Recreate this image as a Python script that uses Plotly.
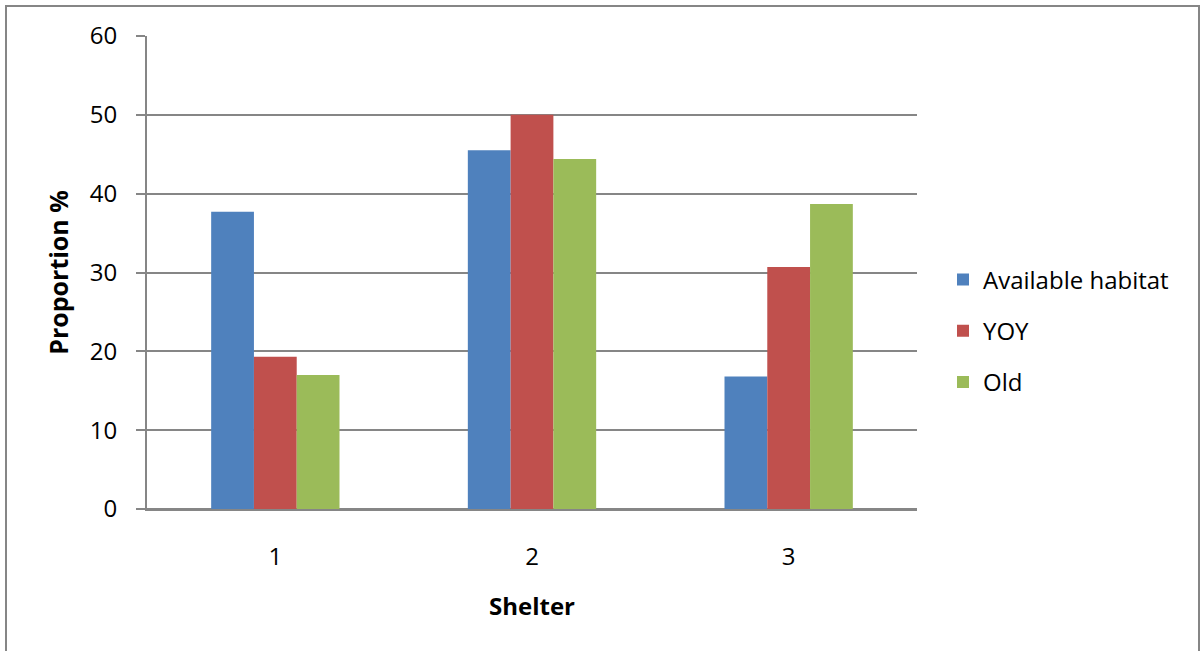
import plotly.graph_objects as go

# Shelter categories and the proportion (%) of each group per category
shelter = ["1", "2", "3"]
available_habitat = [37.7, 45.5, 16.8]
yoy = [19.3, 50.0, 30.7]
old = [17.0, 44.4, 38.7]

series = [
    ("Available habitat", available_habitat, "#4F81BD"),
    ("YOY", yoy, "#C0504D"),
    ("Old", old, "#9BBB59"),
]

FONT = "Open Sans"
GRID = "#868686"

fig = go.Figure()
for i, (name, vals, color) in enumerate(series):
    fig.add_trace(go.Bar(
        x=shelter, y=vals, name=name,
        marker=dict(color=color, line=dict(width=0)),
        legendgroup=f"g{i}",
    ))

# plot area in pixels: x 147..917, y 36..509
W, H = 1201, 651
L, R, T, B = 147, 917, 36, 509
pw, ph = R - L, B - T

def px_x(x):
    return (x - L) / pw

def px_y(y):
    return (B - y) / ph

fig.update_layout(
    width=W, height=H,
    margin=dict(l=L, r=W - R, t=T, b=H - B, autoexpand=False),
    paper_bgcolor="white", plot_bgcolor="white",
    barmode="group", bargap=0.5, bargroupgap=0,
    font=dict(family=FONT, size=24, color="black"),
    showlegend=True,
    legend=dict(
        x=px_x(943), y=px_y(331), xanchor="left", yanchor="middle",
        font=dict(family=FONT, size=24, color="black"),
        tracegroupgap=17, itemclick=False,
    ),
    xaxis=dict(
        type="category", range=[-0.5, 2.5],
        showline=True, linecolor=GRID, linewidth=2,
        showgrid=False, ticks="", ticklabelstandoff=25,
        tickfont=dict(size=24),
        title=dict(text="<b>Shelter</b>", standoff=27, font=dict(size=24)),
    ),
    yaxis=dict(
        range=[0, 60], dtick=10, tick0=0,
        showgrid=True, gridcolor=GRID, gridwidth=2,
        zeroline=True, zerolinecolor=GRID, zerolinewidth=2,
        showline=True, linecolor=GRID, linewidth=2,
        ticks="outside", ticklen=9, tickcolor=GRID, tickwidth=2,
        ticklabelstandoff=14,
        tickfont=dict(size=24),
        title=dict(text="<b>Proportion %</b>", standoff=14, font=dict(size=25)),
    ),
    shapes=[dict(
        type="rect", xref="paper", yref="paper",
        x0=px_x(6), x1=px_x(1199), y0=px_y(660), y1=px_y(6),
        line=dict(color=GRID, width=2), fillcolor="rgba(0,0,0,0)",
        layer="below",
    )],
)

fig.write_html("out.html")
